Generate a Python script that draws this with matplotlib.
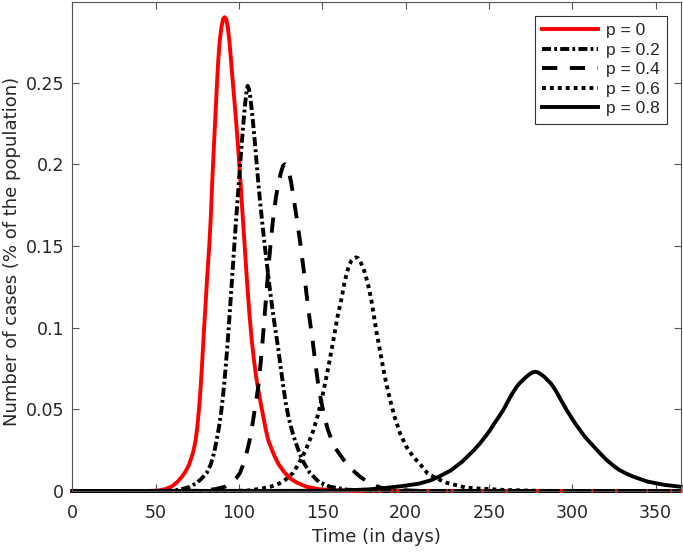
import matplotlib
matplotlib.use("Agg")
import matplotlib.pyplot as plt

# ---------------- data ----------------
labels = ["p = 0", "p = 0.2", "p = 0.4", "p = 0.6", "p = 0.8"]

p0_days = [0, 45, 52, 56, 60, 63, 66, 68, 70, 72, 73, 74, 75, 76, 77, 78, 79, 80, 81, 82.3, 83.2,
           84, 85, 86, 86.8, 87.6, 88.5, 89.5, 90.5, 91.4, 92.3, 93.3, 94.3, 95.2, 96, 97, 98, 99,
           100, 101, 102, 103.3, 104.2, 105, 106.3, 107.6, 109, 110.3, 111.6, 113, 114.5, 116,
           117.6, 119.5, 121.5, 124, 127.6, 131, 135, 140.6, 148, 158, 170, 365]
p0_vals = [0, 0, 0.0003, 0.0012, 0.003, 0.0055, 0.009, 0.012, 0.016, 0.022, 0.026, 0.031, 0.039,
           0.05, 0.063, 0.08, 0.098, 0.115, 0.132, 0.152, 0.17, 0.19, 0.212, 0.232, 0.249, 0.264,
           0.276, 0.284, 0.289, 0.290, 0.289, 0.284, 0.275, 0.264, 0.254, 0.242, 0.23, 0.217,
           0.203, 0.188, 0.172, 0.152, 0.138, 0.126, 0.108, 0.093, 0.08, 0.07, 0.062, 0.054, 0.046,
           0.038, 0.031, 0.026, 0.021, 0.016, 0.011, 0.0075, 0.005, 0.0026, 0.0011, 0.0003, 0, 0]

p2_days = [0, 55, 60, 64, 67, 70.6, 74, 77, 80.6, 83, 85, 86.6, 88, 89.3, 90.6, 91.8, 93, 94, 95,
           96, 97, 98, 99, 100, 101, 102, 103, 103.8, 104.5, 105.2, 106, 106.8, 107.6, 108.5,
           109.5, 110.5, 111.5, 112.6, 114, 115.5, 117, 118.5, 120, 121.8, 123.6, 125, 126.6,
           128.2, 130, 131.8, 133.6, 136, 138.5, 142.6, 148, 154.6, 165, 180, 195, 365]
p2_vals = [0, 0, 0.0002, 0.0008, 0.0015, 0.0026, 0.0045, 0.007, 0.011, 0.016, 0.023, 0.031, 0.039,
           0.048, 0.06, 0.073, 0.088, 0.102, 0.117, 0.132, 0.147, 0.162, 0.176, 0.19, 0.204, 0.217,
           0.229, 0.238, 0.244, 0.248, 0.246, 0.241, 0.234, 0.225, 0.214, 0.202, 0.19, 0.178,
           0.164, 0.15, 0.137, 0.124, 0.112, 0.099, 0.087, 0.076, 0.064, 0.053, 0.044, 0.037,
           0.031, 0.024, 0.018, 0.011, 0.0055, 0.0026, 0.0008, 0.0001, 0, 0]

p4_days = [0, 75, 80, 86, 91.6, 96, 98.5, 100.6, 102.5, 104, 105.5, 106.6, 108, 109.5, 110.6,
           111.6, 112.9, 114.2, 115.3, 116.4, 117.5, 118.6, 119.8, 121, 122.4, 123.8, 125.2, 126.4,
           127.6, 128.8, 130, 131.3, 132.7, 134.2, 135.8, 137.4, 139, 140.6, 142.3, 144.2, 146,
           147.6, 149.3, 151, 153.2, 155.6, 158, 160.8, 163.6, 168, 172.6, 178, 185, 195, 210, 365]
p4_vals = [0, 0.0001, 0.0004, 0.0012, 0.0026, 0.0055, 0.008, 0.011, 0.016, 0.021, 0.027, 0.032,
           0.04, 0.05, 0.057, 0.064, 0.077, 0.092, 0.106, 0.12, 0.134, 0.147, 0.16, 0.171, 0.181,
           0.189, 0.195, 0.199, 0.200, 0.199, 0.195, 0.189, 0.18, 0.17, 0.159, 0.147, 0.134,
           0.12, 0.106, 0.092, 0.077, 0.065, 0.055, 0.047, 0.038, 0.031, 0.026, 0.022, 0.018,
           0.013, 0.0088, 0.005, 0.002, 0.0006, 0, 0]

p6_days = [0, 95, 105, 112, 118.6, 124, 128, 132.4, 136, 139.6, 142, 144.6, 147.5, 150.5, 153.5,
           156.6, 159, 161.6, 163, 164.6, 166, 167.5, 169, 170.2, 171.5, 173, 174.8, 176.5, 178,
           179.6, 181, 182.6, 184.6, 187.5, 190.6, 193.5, 196.6, 200.5, 204.6, 209, 213, 218,
           224.6, 236.6, 249, 260, 280, 300, 365]
p6_vals = [0, 0, 0.0003, 0.0012, 0.0025, 0.0045, 0.007, 0.011, 0.017, 0.024, 0.03, 0.037, 0.047,
           0.06, 0.075, 0.092, 0.106, 0.118, 0.126, 0.133, 0.138, 0.141, 0.1425, 0.143, 0.1425,
           0.14, 0.136, 0.13, 0.124, 0.116, 0.107, 0.097, 0.086, 0.07, 0.056, 0.045, 0.0355, 0.027,
           0.021, 0.016, 0.011, 0.008, 0.005, 0.002, 0.0012, 0.0006, 0.0001, 0, 0]

p8_days = [0, 150, 165, 178, 188, 198, 208, 215, 220, 227, 234, 241, 244.5, 247.6, 250.5, 253,
           256, 258.6, 260.6, 262.5, 264.6, 266.6, 268.6, 270.5, 272.3, 274, 276, 277.8, 279.6,
           281.5, 283.3, 285, 287, 288.6, 290.6, 292.5, 294.5, 296.6, 299.3, 302, 304.8, 307.6,
           310.8, 314, 317.3, 320.6, 324.3, 328, 332.3, 336.6, 345, 355, 365]
p8_vals = [0, 0.0001, 0.0004, 0.001, 0.0019, 0.003, 0.0045, 0.0065, 0.0088, 0.0125, 0.018, 0.025,
           0.029, 0.033, 0.037, 0.041, 0.0455, 0.0496, 0.0534, 0.057, 0.0606, 0.0638, 0.0662,
           0.068, 0.0698, 0.0712, 0.0725, 0.073, 0.0725, 0.0712, 0.0698, 0.068, 0.066, 0.0638,
           0.0605, 0.057, 0.0534, 0.0496, 0.0452, 0.041, 0.037, 0.0332, 0.0295, 0.026, 0.0224,
           0.019, 0.0158, 0.013, 0.0107, 0.0088, 0.0058, 0.0038, 0.0026]

x_ticks = [0, 50, 100, 150, 200, 250, 300, 350]
y_ticks = [0, 0.05, 0.1, 0.15, 0.2, 0.25]
y_ticklabels = ["0", "0.05", "0.1", "0.15", "0.2", "0.25"]

# ---------------- styling ----------------
plt.rcParams["font.family"] = ["DejaVu Sans"]
plt.rcParams["lines.scale_dashes"] = False

fig = plt.figure(figsize=(6.83, 5.53), dpi=100)
ax = fig.add_axes([72.3 / 683, 62 / 553, (680.6 - 72.3) / 683, (491 - 2) / 553])

lw = 2.8
series = [
    (p0_days, p0_vals, dict(color="#ff0000", linestyle="-")),
    (p2_days, p2_vals, dict(color="black", linestyle=(0, (6.5, 2.3, 2.0, 2.3)))),
    (p4_days, p4_vals, dict(color="black", linestyle=(0, (11, 9)))),
    (p6_days, p6_vals, dict(color="black", linestyle=(0, (2.8, 2.9)))),
    (p8_days, p8_vals, dict(color="black", linestyle="-")),
]
for (d, v, st), lab in zip(series, labels):
    ax.plot(d, v, linewidth=lw, label=lab, clip_on=False, solid_joinstyle="round",
            dash_joinstyle="round", **st)

ax.set_xlim(0, 365)
ax.set_ylim(0, 0.2993)
ax.set_xticks(x_ticks)
ax.set_yticks(y_ticks)
ax.set_yticklabels(y_ticklabels)

axc = "#555555"
for s in ax.spines.values():
    s.set_color(axc)
    s.set_linewidth(0.8)
ax.tick_params(direction="in", length=5, width=0.8, color=axc, top=True, right=True,
               labelsize=12.5, labelcolor="#262626")
ax.tick_params(axis="x", pad=9)
ax.tick_params(axis="y", pad=6)

ax.set_xlabel("Time (in days)", fontsize=13, color="#262626", labelpad=5)
ax.set_ylabel("Number of cases (% of the population)", fontsize=13, color="#262626", labelpad=6)
ax.yaxis.set_label_coords(-0.085, 0.49)

leg = ax.legend(loc="upper right", bbox_to_anchor=(1, 1), borderaxespad=0.8,
                prop={"family": "Liberation Sans", "size": 12.5},
                handlelength=3.2, handletextpad=0.45, labelspacing=0.25, fancybox=False,
                framealpha=1, edgecolor="#333333", borderpad=0.42)
leg.get_frame().set_linewidth(0.8)
for t in leg.get_texts():
    t.set_color("#262626")

fig.savefig("out.png", dpi=100)
